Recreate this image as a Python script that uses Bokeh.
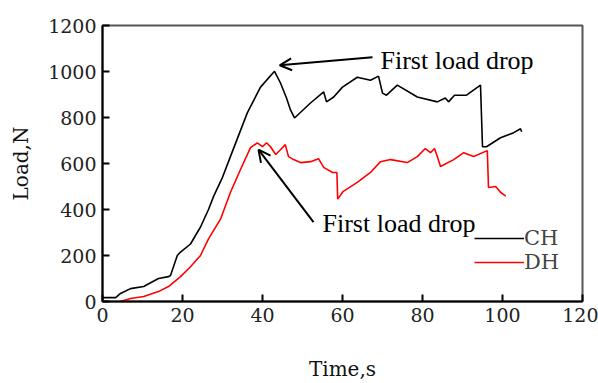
from bokeh.plotting import figure
from bokeh.models import Range1d, Arrow, OpenHead, Legend, LegendItem, FixedTicker, ColumnDataSource
from bokeh.core.properties import value
from bokeh.embed import file_html
from bokeh.resources import INLINE

# ---- data ----
ch_t = [0, 3.3, 4.5, 7, 10.3, 14, 16.5, 17, 18.7, 19.5, 22, 24.5, 26.5, 27.8, 30, 32, 36.2, 39.5,
        43, 44.5, 46, 47, 48, 52, 55.3, 56, 57.8, 60, 63.7, 67, 69, 70, 71, 73.7, 78.7, 83.7,
        85.7, 86.5, 88, 91, 94.5, 95, 96, 99.5, 102.8, 104.5, 104.8]
ch_load = [17, 17, 35, 56, 65, 100, 108, 113, 200, 215, 250, 324, 400, 458, 540, 631, 820, 932,
           1001, 950, 885, 833, 798, 863, 911, 868, 889, 932, 975, 962, 980, 906, 897, 941, 889, 868,
           885, 868, 897, 897, 941, 673, 673, 712, 734, 751, 738]

dh_t = [4.5, 7, 10.3, 14, 16.5, 19.5, 22, 24.5, 26.5, 29.5, 32, 34.5, 37, 38.7, 40, 41, 42, 43.3,
        44.5, 45.7, 46.5, 47.8, 49.5, 52, 54, 55.3, 57.5, 58.6, 58.8, 60.2, 63.7, 67, 69.5, 72,
        76.2, 78.7, 80.7, 82, 83, 83.7, 84.5, 87.8, 90.3, 92.8, 96.2, 96.5, 98.3, 99.5, 100.8]
dh_load = [0, 13, 22, 43, 65, 108, 151, 200, 272, 358, 475, 574, 669, 690, 673, 690, 673, 639,
           660, 682, 630, 617, 604, 608, 621, 583, 561, 561, 445, 479, 518, 561, 608, 617,
           604, 630, 665, 647, 665, 630, 587, 617, 647, 630, 656, 496, 500, 475, 458]

x_ticks = [0, 20, 40, 60, 80, 100, 120]
y_ticks = [0, 200, 400, 600, 800, 1000, 1200]

note_text = ["First load drop", "First load drop"]
note_x = [69.5, 55.0]
note_y = [1049, 337]
arrow_x0 = [67.5, 52.75]
arrow_y0 = [1062, 345]
arrow_x1 = [44.3, 39.0]
arrow_y1 = [1027, 660]

# ---- figure ----
p = figure(width=598, height=383, x_range=Range1d(0, 120), y_range=Range1d(0, 1200),
           output_backend="svg", toolbar_location=None,
           min_border_left=102, min_border_right=16, min_border_top=25, min_border_bottom=80)
p.xgrid.visible = False
p.ygrid.visible = False
p.outline_line_color = "#555555"
p.outline_line_width = 2

p.xaxis.ticker = FixedTicker(ticks=x_ticks, minor_ticks=[])
p.yaxis.ticker = FixedTicker(ticks=y_ticks, minor_ticks=[])
for ax in (p.xaxis, p.yaxis):
    ax.axis_line_width = 2
    ax.axis_line_color = "black"
    ax.major_tick_in = 7
    ax.major_tick_out = 0
    ax.major_tick_line_width = 2
    ax.minor_tick_line_color = None
    ax.major_label_text_font = "DejaVu Serif"
    ax.major_label_text_font_size = "19px"
    ax.major_label_text_color = "#222222"
    ax.axis_label_text_font = "DejaVu Serif"
    ax.axis_label_text_font_size = "20px"
    ax.axis_label_text_font_style = "normal"
    ax.axis_label_text_color = "#111111"
p.xaxis.axis_label = "Time,s"
p.yaxis.axis_label = "Load,N"
p.xaxis.major_label_standoff = 6
p.yaxis.major_label_standoff = 6
p.xaxis.axis_label_standoff = 32
p.yaxis.axis_label_standoff = 12

r_ch = p.line(ch_t, ch_load, line_color="black", line_width=1.6)
r_dh = p.line(dh_t, dh_load, line_color="red", line_width=1.6)

src_notes = ColumnDataSource(dict(x=note_x, y=note_y, text=note_text))
p.text(x="x", y="y", text="text", source=src_notes, text_font=value("Liberation Serif"),
       text_font_size="26px", text_baseline="alphabetic", text_align="left", text_color="black")

for xs, ys, xe, ye in zip(arrow_x0, arrow_y0, arrow_x1, arrow_y1):
    p.add_layout(Arrow(end=OpenHead(size=12, line_width=2, line_color="black"),
                       x_start=xs, y_start=ys, x_end=xe, y_end=ye,
                       line_width=2, line_color="black"))

legend = Legend(items=[LegendItem(label="CH", renderers=[r_ch]),
                       LegendItem(label="DH", renderers=[r_dh])],
                location=(372, 27), glyph_width=50, glyph_height=20, label_height=20,
                label_standoff=0, spacing=0, padding=0, margin=0,
                border_line_color=None, background_fill_alpha=0,
                label_text_font="DejaVu Serif", label_text_font_size="21px")
p.add_layout(legend)

open("out.html", "w").write(file_html(p, INLINE))
